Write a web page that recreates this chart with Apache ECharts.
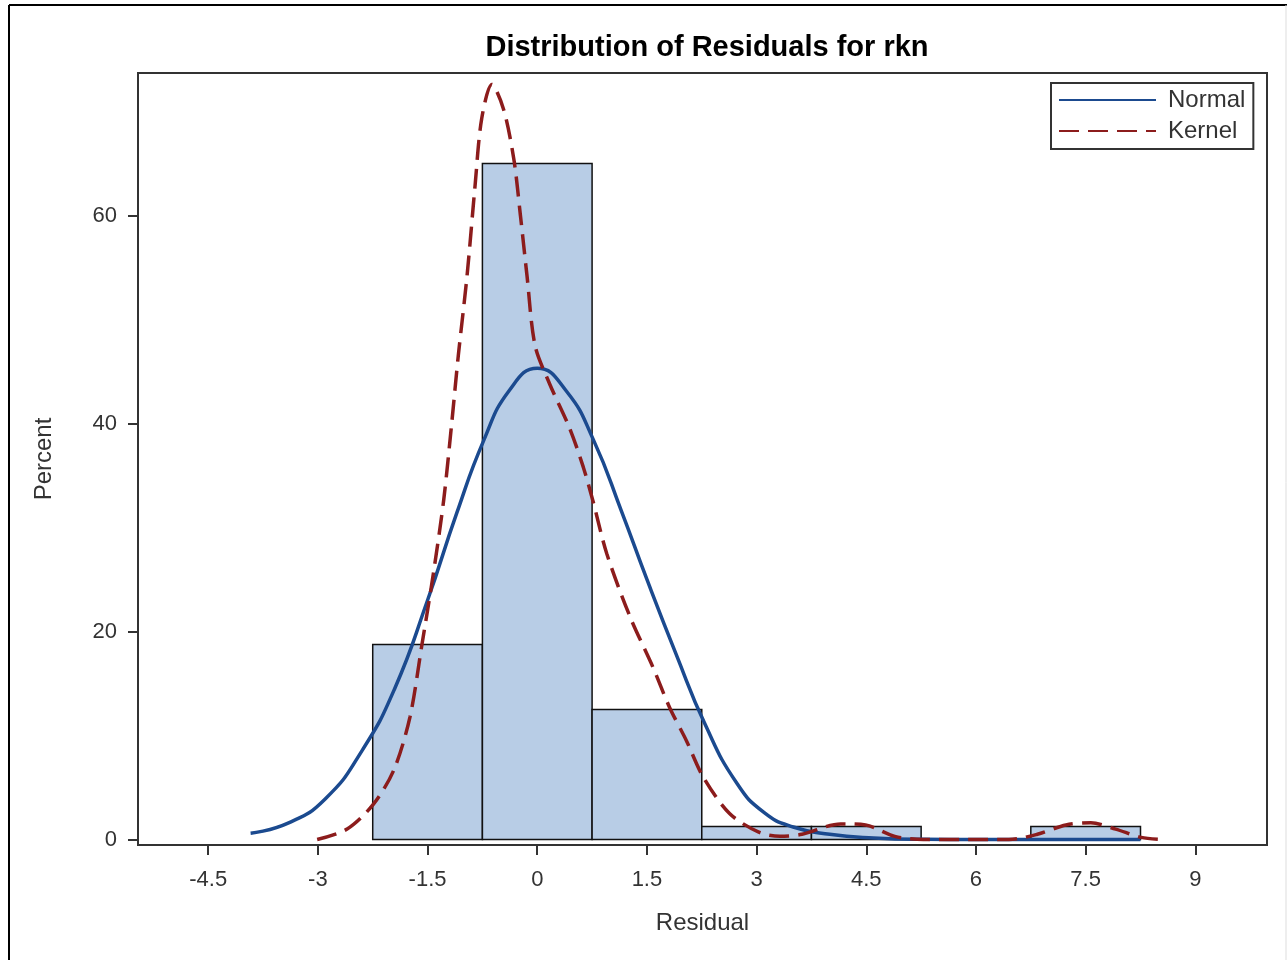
<!DOCTYPE html>
<html>
<head>
<meta charset="utf-8">
<script src="https://cdn.jsdelivr.net/npm/echarts@6/dist/echarts.min.js"></script>
<style>
  html, body { margin: 0; padding: 0; background: #fff; }
  #chart { width: 1288px; height: 960px; }
</style>
</head>
<body>
<div id="chart"></div>
<script>
// Histogram bins (percent of residuals)
const binStart = [-2.25, -0.75, 0.75, 2.25, 3.75, 5.25, 6.75];
const binEnd = [-0.75, 0.75, 2.25, 3.75, 5.25, 6.75, 8.25];
const binPercent = [18.75, 65, 12.5, 1.25, 1.25, 0, 1.25];

// Normal density curve
const normalX = [-3.92, -3.4, -2.9, -2.4, -1.95, -1.5, -1.1, -0.73, -0.38, 0.0, 0.4, 0.77, 1.15, 1.5, 1.9, 2.3, 2.73, 3.1, 3.5, 4.0, 4.6, 5.3, 6.0, 8.25];
const normalY = [0.6, 1.6, 3.9, 8.5, 14.5, 23.0, 31.4, 38.4, 43.2, 45.3, 43.1, 38.4, 31.6, 25.0, 17.8, 11.0, 5.4, 2.6, 1.2, 0.5, 0.15, 0.02, 0, 0];

// Kernel density curve
const kernelX = [-3.01, -2.60, -2.24, -1.96, -1.74, -1.58, -1.42, -1.28, -1.17, -1.08, -0.96, -0.85, -0.76, -0.62, -0.46, -0.32, -0.23, -0.14, -0.03, 0.17, 0.44, 0.63, 0.76, 0.95, 1.27, 1.58, 1.81, 2.04, 2.27, 2.63, 3.03, 3.32, 3.62, 4.15, 4.49, 4.89, 5.28, 5.9, 6.45, 6.84, 7.23, 7.57, 7.91, 8.26, 8.53];
const kernelY = [0, 1.0, 3.4, 6.7, 11.8, 18.6, 25.6, 32.6, 40.0, 46.5, 54.2, 62.9, 69.3, 72.6, 70.2, 65.4, 60.0, 54.2, 47.5, 43.8, 39.6, 35.8, 32.6, 27.5, 21.4, 16.6, 12.7, 9.5, 6.0, 2.5, 0.7, 0.3, 0.5, 1.5, 1.4, 0.3, 0, 0, 0, 0.5, 1.4, 1.6, 1.0, 0.2, 0];

const xTicks = [-4.5, -3, -1.5, 0, 1.5, 3, 4.5, 6, 7.5, 9];
const yTicks = [0, 20, 40, 60];

const labelFont = 'Liberation Sans, Arial, sans-serif';

const myChart = echarts.init(document.getElementById('chart'));

const option = {
    animation: false,
    backgroundColor: '#fff',
    title: {
        text: 'Distribution of Residuals for rkn',
        left: 702,
        textAlign: 'center',
        top: 28,
        textStyle: {
            fontFamily: labelFont,
            fontSize: 29,
            fontWeight: 'bold',
            color: '#000'
        }
    },
    grid: {
        left: 138,
        right: 21,
        top: 73,
        bottom: 115,
        show: true,
        borderColor: '#333',
        borderWidth: 2,
        backgroundColor: 'transparent'
    },
    legend: {
        left: 1051,
        top: 83,
        orient: 'vertical',
        itemWidth: 97,
        itemHeight: 14,
        itemGap: 7,
        padding: [5, 8, 6, 7],
        borderColor: '#333',
        borderWidth: 2,
        backgroundColor: '#fff',
        itemStyle: { opacity: 0 },
        textStyle: {
            fontFamily: labelFont,
            fontSize: 24,
            color: '#333',
            padding: [0, 0, 0, 7]
        },
        data: ['Normal', 'Kernel']
    },
    xAxis: {
        type: 'value',
        min: -5.46,
        max: 9.98,
        name: 'Residual',
        nameLocation: 'middle',
        nameGap: 66,
        nameTextStyle: { fontFamily: labelFont, fontSize: 24, color: '#333' },
        axisLine: { onZero: false, lineStyle: { color: '#333', width: 2 } },
        axisTick: { customValues: xTicks, length: 10, lineStyle: { color: '#333', width: 2 } },
        axisLabel: {
            customValues: xTicks,
            margin: 24,
            fontFamily: labelFont,
            fontSize: 22,
            color: '#333'
        },
        splitLine: { show: false }
    },
    yAxis: {
        type: 'value',
        min: -0.53,
        max: 73.7,
        name: 'Percent',
        nameLocation: 'middle',
        nameGap: 82,
        nameTextStyle: { fontFamily: labelFont, fontSize: 24, color: '#333' },
        axisLine: { onZero: false, lineStyle: { color: '#333', width: 2 } },
        axisTick: { customValues: yTicks, length: 10, lineStyle: { color: '#333', width: 2 } },
        axisLabel: {
            customValues: yTicks,
            margin: 21,
            fontFamily: labelFont,
            fontSize: 22,
            color: '#333'
        },
        splitLine: { show: false }
    },
    graphic: [
        { type: 'line', shape: { x1: 9, y1: 5, x2: 9, y2: 960 }, style: { stroke: '#000', lineWidth: 2 } },
        { type: 'line', shape: { x1: 9, y1: 5, x2: 1287, y2: 5 }, style: { stroke: '#000', lineWidth: 2 } },
        { type: 'line', shape: { x1: 1286, y1: 5, x2: 1286, y2: 960 }, style: { stroke: '#ddd', lineWidth: 1 } }
    ],
    series: [
        {
            name: 'Histogram',
            type: 'custom',
            data: binStart.map((s, i) => [s, binEnd[i], binPercent[i]]),
            encode: { x: [0, 1], y: 2 },
            renderItem: function (params, api) {
                const h = api.value(2);
                if (h <= 0) return null;
                const p0 = api.coord([api.value(0), h]);
                const p1 = api.coord([api.value(1), 0]);
                return {
                    type: 'rect',
                    shape: { x: p0[0], y: p0[1], width: p1[0] - p0[0], height: p1[1] - p0[1] },
                    style: { fill: '#b8cde6', stroke: '#111', lineWidth: 1.5 }
                };
            },
            z: 1
        },
        {
            name: 'Normal',
            type: 'line',
            data: normalX.map((x, i) => [x, normalY[i]]),
            smooth: 0.5,
            symbol: 'none',
            lineStyle: { color: '#1b4a8f', width: 3.5 },
            itemStyle: { color: '#1b4a8f' },
            z: 3
        },
        {
            name: 'Kernel',
            type: 'line',
            data: kernelX.map((x, i) => [x, kernelY[i]]),
            smooth: 0.3,
            symbol: 'none',
            lineStyle: { color: '#8c1c1c', width: 3.5, type: [20, 9] },
            itemStyle: { color: '#8c1c1c' },
            z: 4
        }
    ]
};

myChart.setOption(option);
</script>
</body>
</html>
